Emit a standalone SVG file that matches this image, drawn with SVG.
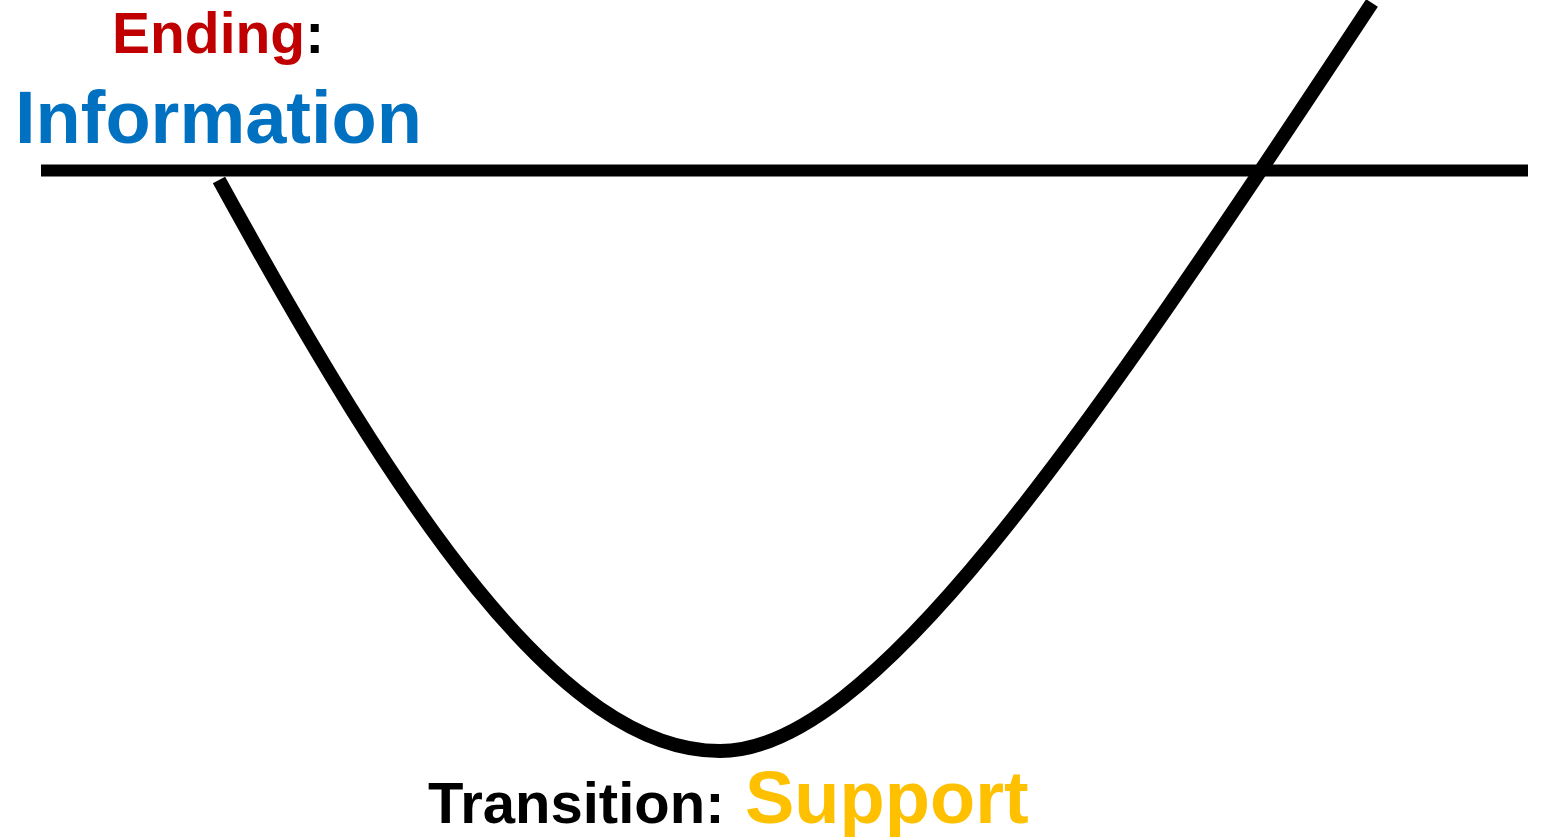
<svg xmlns="http://www.w3.org/2000/svg" width="1557" height="837" viewBox="0 0 1557 837">
<style>
.t{font-family:"Liberation Sans",Arial,sans-serif;font-weight:bold}
.ln{fill:none;stroke:#000;stroke-width:12}
.cv{fill:none;stroke:#000;stroke-width:14}
</style>
<rect width="1557" height="837" fill="#fff"/>
<g id="connectors">
<line class="ln" x1="41" y1="170.5" x2="1528" y2="170.5"/>
<path class="cv" d="M219,180 C400,510 560,751 720,751 C870,751 1075,453 1372,3"/>
</g>
<g id="ending">
<text class="t" x="112" y="53" font-size="57"><tspan fill="#C00000">Ending</tspan><tspan fill="#000">:</tspan></text>
</g>
<g id="information">
<text class="t" x="15" y="143" font-size="74" fill="#0070C0">Information</text>
</g>
<g id="transition">
<text class="t" x="428" y="823" font-size="58" fill="#000">Transition:</text>
<text class="t" x="745" y="823" font-size="74" fill="#FFC000">Support</text>
</g>
</svg>
